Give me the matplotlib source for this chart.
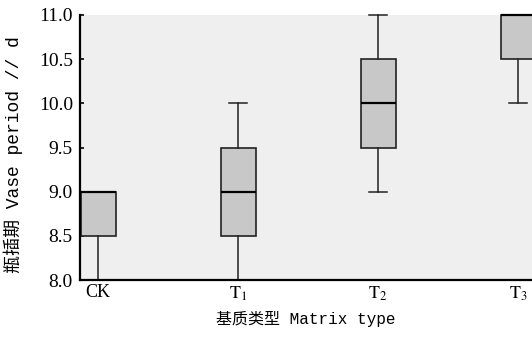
import matplotlib
matplotlib.use('Agg')
import matplotlib.pyplot as plt

# box statistics (days)
groups = ['CK', r'$\mathrm{T_1}$', r'$\mathrm{T_2}$', r'$\mathrm{T_3}$']
q1 = [8.5, 8.5, 9.5, 10.5]
med = [9.0, 9.0, 10.0, 11.0]
q3 = [9.0, 9.5, 10.5, 11.0]
whis_lo = [8.0, 8.0, 9.0, 10.0]
whis_hi = [9.0, 10.0, 11.0, 11.0]
yticks = [8.0, 8.5, 9.0, 9.5, 10.0, 10.5, 11.0]

plt.rcParams['font.family'] = ['Liberation Serif', 'Noto Sans CJK SC']
plt.rcParams['mathtext.fontset'] = 'stix'
label_font = ['Liberation Mono', 'Noto Sans CJK SC']

stats = []
for i in range(len(groups)):
    stats.append({'label': groups[i], 'q1': q1[i], 'med': med[i], 'q3': q3[i],
                  'whislo': whis_lo[i], 'whishi': whis_hi[i], 'fliers': []})

fig = plt.figure(figsize=(5.32, 3.4), dpi=100)
ax = fig.add_axes([0.150, 0.176, 0.850, 0.780])
ax.set_facecolor('#efefef')

ax.bxp(stats, positions=range(len(groups)), widths=0.25, capwidths=0.13,
       patch_artist=True, showfliers=False,
       boxprops=dict(facecolor='#c8c8c8', edgecolor='#222222', linewidth=1.2),
       medianprops=dict(color='black', linewidth=1.6),
       whiskerprops=dict(color='#222222', linewidth=1.1),
       capprops=dict(color='#222222', linewidth=1.1))

for a in ax.patches + ax.lines:
    a.set_clip_on(False)

ax.set_xlim(-0.13, 3.1)
ax.set_ylim(8.0, 11.0)
ax.set_yticks(yticks)
ax.set_yticklabels(['%.1f' % v for v in yticks])
ax.set_xticks(range(len(groups)))
ax.set_xticklabels(groups)

for s in ['top', 'right']:
    ax.spines[s].set_visible(False)
for s in ['left', 'bottom']:
    ax.spines[s].set_linewidth(1.6)
    ax.spines[s].set_color('black')

ax.tick_params(axis='y', direction='in', length=3, width=1.2, labelsize=14, pad=5)
ax.tick_params(axis='x', length=0, labelsize=13, pad=3)

ax.set_xlabel('基质类型 Matrix type', fontsize=11.5, family=label_font, labelpad=6)
ax.set_ylabel('瓶插期 Vase period // d', fontsize=13, family=label_font)
ax.yaxis.set_label_coords(-0.126, 0.475)

fig.savefig('out.png', dpi=100)
